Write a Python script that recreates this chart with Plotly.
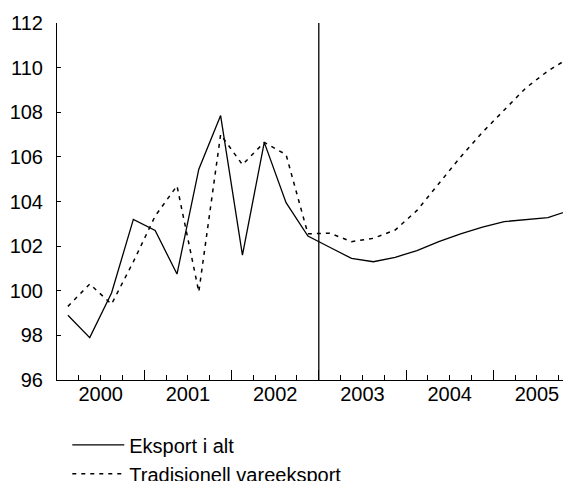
import plotly.graph_objects as go

years = ["2000", "2001", "2002", "2003", "2004", "2005"]
quarters_per_year = 4
forecast_start = 12  # start of 2003 (quarter index)

eksport_i_alt = [98.9, 97.9, 99.9, 103.2, 102.7, 100.75, 105.45, 107.85,
                 101.6, 106.65, 103.95, 102.45, 101.95, 101.45, 101.3, 101.5,
                 101.8, 102.2, 102.55, 102.85, 103.1, 103.18, 103.28, 103.6]
tradisjonell = [99.3, 100.3, 99.4, 101.3, 103.35, 104.7, 99.95, 107.0,
                105.65, 106.65, 106.1, 102.55, 102.58, 102.2, 102.35, 102.72,
                103.6, 104.78, 106.0, 107.1, 108.1, 109.1, 109.85, 110.45]

n = len(eksport_i_alt)
xq = [i + 0.5 for i in range(n)]
year_bounds = [i * quarters_per_year for i in range(len(years))]
year_mids = [b + quarters_per_year / 2 for b in year_bounds]

FONT = "Liberation Sans, Arial, sans-serif"

fig = go.Figure()
fig.add_trace(go.Scatter(x=xq, y=eksport_i_alt, mode="lines", name="Eksport i alt",
                         line=dict(color="black", width=1.3)))
fig.add_trace(go.Scatter(x=xq, y=tradisjonell, mode="lines", name="Tradisionell vareeksport",
                         line=dict(color="black", width=1.5, dash="4px,5px")))
# forecast divider drawn on the tick axis
fig.add_trace(go.Scatter(x=[forecast_start, forecast_start], y=[96, 112], mode="lines",
                         xaxis="x2", showlegend=False, hoverinfo="skip",
                         line=dict(color="black", width=1.3)))

xrange = [0, 23.56]
fig.update_layout(
    width=563, height=473,
    margin=dict(l=49, r=0, t=15, b=101, autoexpand=False),
    paper_bgcolor="white", plot_bgcolor="white",
    font=dict(family=FONT, size=20, color="black"),
    showlegend=True,
    legend=dict(x=0.02, y=-0.127, xanchor="left", yanchor="top",
                font=dict(family=FONT, size=20, color="black"),
                itemwidth=52, tracegroupgap=0, bgcolor="rgba(0,0,0,0)"),
    xaxis=dict(range=xrange, tickvals=year_mids, ticktext=years, ticks="",
               showline=True, linecolor="black", linewidth=1.3, showgrid=False,
               zeroline=False, ticklabelstandoff=-4,
               tickfont=dict(family=FONT, size=20, color="black")),
    xaxis2=dict(range=xrange, overlaying="x", side="bottom", anchor="y",
                tickvals=year_bounds, ticks="inside", ticklen=10, tickwidth=1.3,
                tickcolor="black", showticklabels=False, showline=False,
                showgrid=False, zeroline=False,
                minor=dict(tickvals=list(range(n)), ticks="inside", ticklen=5,
                           tickwidth=1, tickcolor="black", showgrid=False)),
    yaxis=dict(range=[96, 112], tickvals=list(range(96, 113, 2)), ticks="inside",
               ticklen=4, tickcolor="black", showline=True, linecolor="black",
               linewidth=1, showgrid=False, zeroline=False, ticklabelstandoff=9,
               tickfont=dict(family=FONT, size=20, color="black")),
)

fig.write_html("out.html")
